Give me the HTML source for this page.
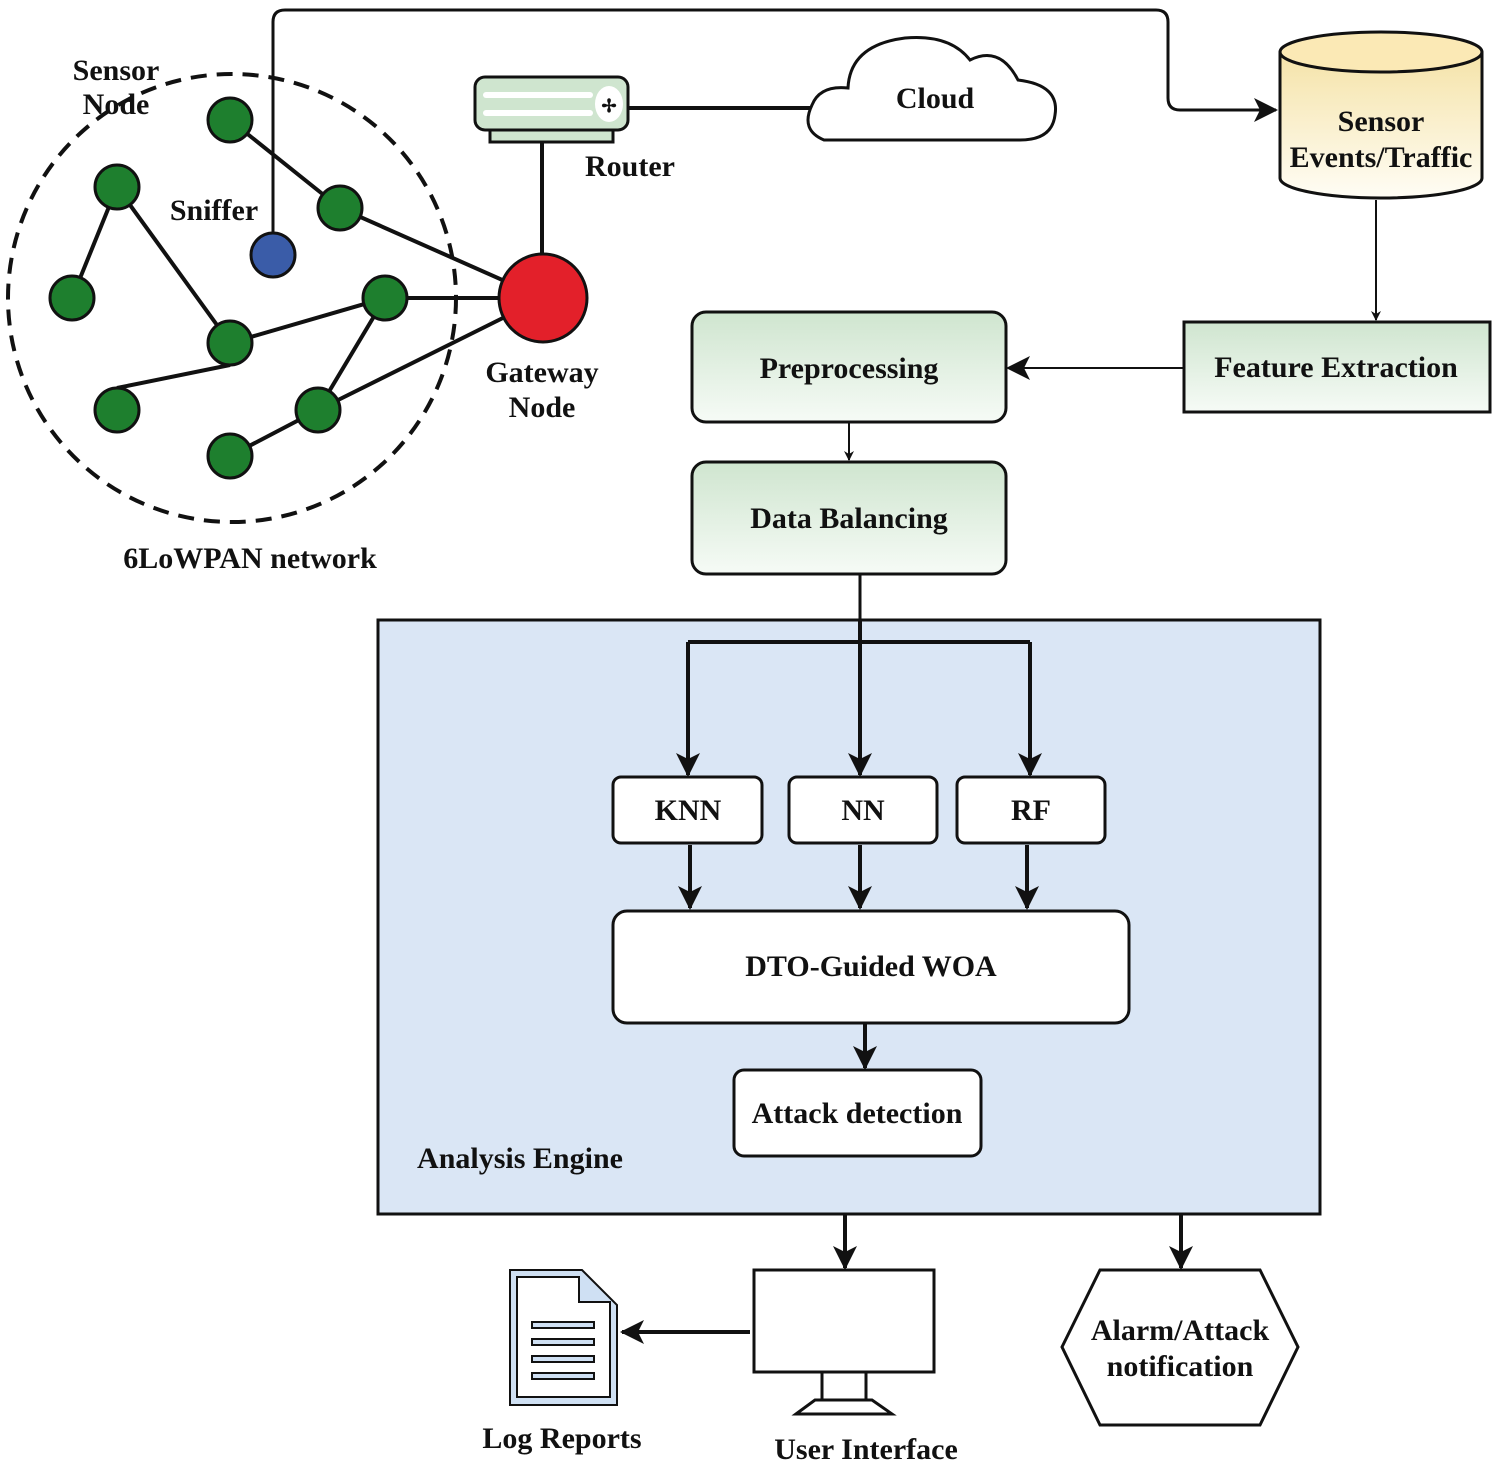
<!DOCTYPE html>
<html><head><meta charset="utf-8"><style>
html,body{margin:0;padding:0;background:#fff}
svg{display:block}
text{font-family:"Liberation Serif",serif;font-weight:bold;fill:#111}
</style></head><body>
<svg width="1504" height="1467" viewBox="0 0 1504 1467" xmlns="http://www.w3.org/2000/svg">
<defs>
<marker id="a" markerWidth="10" markerHeight="10" refX="9" refY="5" orient="auto" markerUnits="userSpaceOnUse" viewBox="0 0 10 10"><path d="M0,0 L10,5 L0,10 L3,5 z" fill="#111"/></marker>
<marker id="b" markerWidth="24" markerHeight="24" refX="22" refY="12" orient="auto" markerUnits="userSpaceOnUse" viewBox="0 0 24 24"><path d="M0,0 L24,12 L0,24 L6,12 z" fill="#111"/></marker>
<linearGradient id="g" x1="0" y1="0" x2="0" y2="1"><stop offset="0" stop-color="#cfe5cf"/><stop offset="1" stop-color="#f6fbf6"/></linearGradient>
<linearGradient id="cy" x1="0" y1="0" x2="0" y2="1"><stop offset="0" stop-color="#f5e3a8"/><stop offset="1" stop-color="#fffdf5"/></linearGradient>
</defs>
<g stroke="#111" stroke-width="4" fill="none">
<circle cx="232" cy="298" r="224" stroke-dasharray="16,10" stroke-width="4"/>
<line x1="230" y1="120" x2="340" y2="208"/><line x1="340" y1="208" x2="543" y2="298"/>
<line x1="117" y1="187" x2="72" y2="298"/><line x1="117" y1="187" x2="230" y2="343"/>
<line x1="230" y1="343" x2="385" y2="298"/><line x1="385" y1="298" x2="543" y2="298"/>
<line x1="117" y1="388" x2="230" y2="365"/><line x1="385" y1="298" x2="318" y2="410"/>
<line x1="318" y1="410" x2="543" y2="298"/><line x1="230" y1="456" x2="318" y2="410"/>
<path d="M273 233 V22 Q273 10 285 10 H1156 Q1168 10 1168 22 V98 Q1168 110 1180 110 H1276" stroke-width="3" marker-end="url(#b)"/>
<line x1="628" y1="108" x2="812" y2="108"/>
<line x1="542" y1="142" x2="542" y2="256"/>
</g>
<g stroke="#111" stroke-width="3">
<g fill="#1e7f2e">
<circle cx="230" cy="120" r="22"/><circle cx="117" cy="187" r="22"/><circle cx="340" cy="208" r="22"/>
<circle cx="72" cy="298" r="22"/><circle cx="230" cy="343" r="22"/><circle cx="385" cy="298" r="22"/>
<circle cx="117" cy="410" r="22"/><circle cx="318" cy="410" r="22"/><circle cx="230" cy="456" r="22"/>
</g>
<circle cx="273" cy="255" r="22" fill="#3a5ca8"/>
<circle cx="543" cy="298" r="44" fill="#e3202a"/>
<rect x="490" y="128" width="123" height="14" fill="#cfe5cf"/>
<rect x="475" y="77" width="153" height="53" rx="10" fill="#cfe5cf"/>
<ellipse cx="609" cy="104" rx="14" ry="18" fill="#fff" stroke="none"/>
<path d="M824 140 Q800 130 812 105 Q820 85 848 88 Q850 45 905 38 Q950 34 970 60 Q1000 45 1018 80 Q1060 85 1055 115 Q1052 140 1020 140 Z" fill="#fff"/>
<path d="M1280 52 V178 A101 20 0 0 0 1482 178 V52" fill="url(#cy)"/>
<ellipse cx="1381" cy="52" rx="101" ry="20" fill="#fbe9b5"/>
<rect x="1184" y="322" width="306" height="90" fill="url(#g)"/>
<rect x="692" y="312" width="314" height="110" rx="14" fill="url(#g)"/>
<rect x="692" y="462" width="314" height="112" rx="14" fill="url(#g)"/>
<rect x="378" y="620" width="942" height="594" fill="#dae6f5"/>
<rect x="613" y="777" width="149" height="66" rx="8" fill="#fff"/>
<rect x="789" y="777" width="148" height="66" rx="8" fill="#fff"/>
<rect x="957" y="777" width="148" height="66" rx="8" fill="#fff"/>
<rect x="613" y="911" width="516" height="112" rx="14" fill="#fff"/>
<rect x="734" y="1070" width="247" height="86" rx="10" fill="#fff"/>
<rect x="754" y="1270" width="180" height="102" fill="#fff"/>
<rect x="822" y="1372" width="44" height="28" fill="#fff"/>
<path d="M796 1414 L815 1400 H872 L892 1414 Z" fill="#fff"/>
<path d="M1100 1270 H1260 L1298 1347 L1260 1425 H1100 L1062 1347 Z" fill="#fff"/>
<path d="M510 1270 H582 L617 1305 V1405 H510 Z" fill="#cfe0f3" stroke-width="2"/>
<path d="M517 1277 H579 V1302 H610 V1397 H517 Z" fill="#fff" stroke-width="2"/>
</g>
<g fill="#fff">
<rect x="483" y="92" width="110" height="6" rx="3"/><rect x="483" y="110" width="110" height="6" rx="3"/>
</g>
<text x="609" y="112" font-size="18" text-anchor="middle">✢</text>
<g fill="#cfe0f3" stroke="#111" stroke-width="2">
<rect x="532" y="1322" width="62" height="6"/><rect x="532" y="1339" width="62" height="6"/><rect x="532" y="1356" width="62" height="6"/><rect x="532" y="1373" width="62" height="6"/>
</g>
<g stroke="#111" stroke-width="2" fill="none">
<line x1="1376" y1="200" x2="1376" y2="320" marker-end="url(#a)"/>
<line x1="1184" y1="368" x2="1008" y2="368" marker-end="url(#b)"/>
<line x1="849" y1="422" x2="849" y2="460" marker-end="url(#a)"/>
</g>
<g stroke="#111" stroke-width="4" fill="none">
<line x1="860" y1="574" x2="860" y2="620" stroke-width="3"/>
<line x1="688" y1="642" x2="1030" y2="642"/>
<line x1="860" y1="620" x2="860" y2="775" marker-end="url(#b)"/>
<line x1="688" y1="642" x2="688" y2="775" marker-end="url(#b)"/>
<line x1="1030" y1="642" x2="1030" y2="775" marker-end="url(#b)"/>
<line x1="690" y1="845" x2="690" y2="908" marker-end="url(#b)"/>
<line x1="860" y1="845" x2="860" y2="908" marker-end="url(#b)"/>
<line x1="1027" y1="845" x2="1027" y2="908" marker-end="url(#b)"/>
<line x1="865" y1="1023" x2="865" y2="1068" marker-end="url(#b)"/>
<line x1="845" y1="1214" x2="845" y2="1268" marker-end="url(#b)"/>
<line x1="1181" y1="1214" x2="1181" y2="1268" marker-end="url(#b)"/>
<line x1="750" y1="1332" x2="622" y2="1332" marker-end="url(#b)"/>
</g>
<g font-size="30" text-anchor="middle">
<text x="116" y="80">Sensor</text><text x="116" y="114">Node</text>
<text x="214" y="220">Sniffer</text>
<text x="630" y="176">Router</text>
<text x="935" y="108">Cloud</text>
<text x="542" y="382">Gateway</text><text x="542" y="417">Node</text>
<text x="250" y="568">6LoWPAN network</text>
<text x="1381" y="131">Sensor</text><text x="1381" y="167">Events/Traffic</text>
<text x="1336" y="377">Feature Extraction</text>
<text x="849" y="378">Preprocessing</text>
<text x="849" y="528">Data Balancing</text>
<text x="688" y="820">KNN</text><text x="863" y="820">NN</text><text x="1031" y="820">RF</text>
<text x="871" y="976">DTO-Guided WOA</text>
<text x="857" y="1123">Attack detection</text>
<text x="520" y="1168">Analysis Engine</text>
<text x="1180" y="1340">Alarm/Attack</text><text x="1180" y="1376">notification</text>
<text x="562" y="1448">Log Reports</text>
<text x="866" y="1459">User Interface</text>
</g>
</svg>
</body></html>
